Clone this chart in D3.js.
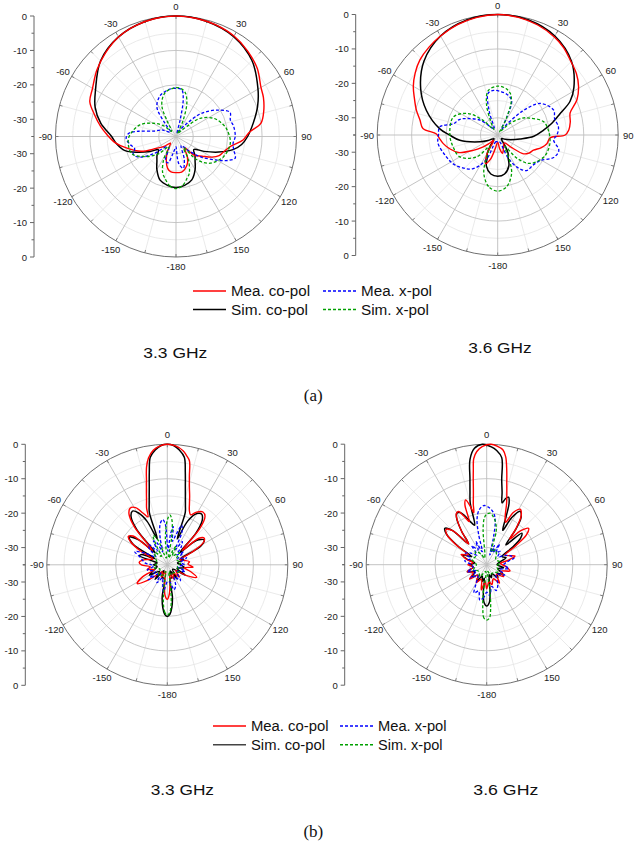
<!DOCTYPE html>
<html><head><meta charset="utf-8">
<script src="https://cdn.jsdelivr.net/npm/d3@7"></script>
<style>body{margin:0;background:#fff} svg{display:block}</style>
</head><body>
<svg id="c" width="641" height="846"></svg>
<script>
// ---------- axis / label data ----------
const DB_MIN = -35;
const majorRings = [-30, -20, -10];
const minorRings = [-25, -15, -5];
const angleTicks = [0, 30, 60, 90, 120, 150, 180, -150, -120, -90, -60, -30];
const angleLabels = ["0", "30", "60", "90", "120", "150", "-180", "-150", "-120", "-90", "-60", "-30"];
const axisTicks = [0, -10, -20, -30];
const axisMinor = [-5, -15, -25, -35];
const seriesNames = ["Mea. co-pol", "Sim. co-pol", "Mea. x-pol", "Sim. x-pol"];
const freqLabels = ["3.3 GHz", "3.6 GHz"];
const panelLabels = ["(a)", "(b)"];

// ---------- (a) 3.3 GHz ----------
const a33_simCo = [[-180,-20.2],[-170,-20.6],[-160,-21.5],[-150,-23.9],[-142,-26],[-135,-27.2],[-127,-28.6],[-120,-26.3],[-112,-22.8],[-105,-19.5],[-97,-17.6],[-90,-16.3],[-80,-12.8],[-70,-10],[-60,-8],[-45,-4],[-30,-1.6],[-15,-0.4],[0,0],[15,-0.4],[30,-1.5],[45,-3.8],[60,-7.5],[70,-9.8],[80,-12.2],[90,-14.2],[97,-15.8],[103,-18],[110,-21.8],[118,-25.8],[126,-28.6],[135,-27.2],[142,-26],[150,-23.9],[160,-21.6],[170,-20.6]];
const a33_meaCo = [[-180,-24.5],[-172,-24.6],[-165,-25.5],[-158,-27.5],[-150,-30],[-140,-32.5],[-130,-30.5],[-121,-28.3],[-113,-24],[-103,-20.2],[-96,-17.3],[-88,-14.8],[-82,-12.8],[-75,-10.5],[-68,-8],[-60,-7],[-50,-5],[-40,-3.2],[-30,-1.6],[-20,-0.7],[-10,-0.2],[0,0],[10,-0.2],[20,-0.6],[30,-1.3],[40,-2.6],[50,-4.2],[60,-6.5],[66,-7.2],[74,-8.5],[81,-10],[87,-13.8],[93,-15.5],[100,-18.8],[108,-20.5],[114,-21.3],[120,-23],[127,-25.5],[136,-27.5],[143,-31],[150,-28.5],[157,-26.5],[164,-25.3],[171,-24.5],[177,-24.5]];
const a33_meaX = [[-180,-32],[-170,-30],[-163,-27],[-156,-27.5],[-148,-31],[-138,-31],[-128,-27],[-120,-23],[-113,-21.5],[-106,-22.5],[-100,-21.5],[-92,-20.5],[-86,-21.3],[-82,-24],[-76,-28.5],[-65,-30.5],[-50,-33],[-40,-30],[-33,-24.8],[-22,-22.4],[-14,-21.6],[-7,-21.1],[0,-21],[7,-21.3],[11,-24],[14,-30],[20,-34],[30,-33],[40,-30],[46,-26],[51,-23.5],[58,-20.5],[66,-17.8],[73,-18.5],[80,-18],[90,-17.8],[97,-18.3],[103,-17.8],[110,-16.7],[115,-18.5],[120,-21.3],[130,-25.9],[140,-30],[150,-32],[160,-28],[167,-25.5],[174,-27],[178,-31]];
const a33_simX = [[-180,-19.9],[-173,-20.5],[-165,-22.5],[-160,-23.7],[-152,-27.3],[-145,-31.5],[-135,-28],[-124,-24.6],[-111,-21.2],[-94,-21.1],[-85,-22],[-72,-24],[-60,-27.3],[-50,-30],[-40,-33],[-30,-30],[-25,-25.3],[-18,-22.8],[-12,-21.6],[0,-20.8],[6,-21],[12,-22],[18,-24.8],[24,-30],[32,-34],[40,-33],[47,-30.7],[53,-26.2],[64,-22.9],[73,-21.3],[82,-20.1],[97,-19.1],[113,-20],[128,-22.4],[138,-25.9],[146,-31],[152,-27.3],[160,-23.7],[165,-22.5],[173,-20.5]];

// ---------- (a) 3.6 GHz ----------
const a36_simCo = [[-180,-23],[-170,-23.5],[-160,-25.4],[-155,-27.8],[-150,-29],[-145,-31.5],[-135,-33.5],[-120,-31.8],[-111,-29.5],[-98,-23.9],[-90,-21],[-84,-18.1],[-71,-13.1],[-59,-8.9],[-45,-4.7],[-30,-1.8],[-15,-0.4],[0,0],[15,-0.4],[30,-1.8],[45,-4.7],[58,-8.9],[65,-11.8],[71,-15.8],[78,-19],[84,-21.6],[92,-24.5],[100,-28.4],[110,-31],[120,-32.5],[135,-33.5],[145,-31.5],[150,-29],[155,-27.9],[160,-25.5],[170,-23.5]];
const a36_meaCo = [[-180,-33],[-170,-31],[-163,-27.5],[-157,-26],[-150,-29],[-143,-33],[-135,-31.6],[-128,-29],[-122,-26.6],[-114,-22.5],[-106,-20.5],[-99,-19],[-93,-18],[-89,-17.2],[-85,-13.2],[-79,-12],[-73,-10.3],[-66,-8.5],[-60,-6.7],[-53,-5],[-46,-3.6],[-38,-2.6],[-30,-1.8],[-20,-0.9],[-10,-0.3],[0,0],[10,-0.3],[20,-1],[30,-2.1],[37,-3.2],[44,-4.7],[52,-6],[59,-7.6],[66,-9.8],[73,-13],[80,-13.6],[86,-14.3],[90,-15.4],[93,-19.7],[100,-20.5],[106,-21.8],[113,-23.7],[120,-24.5],[126,-25.7],[132,-29.5],[140,-32],[155,-31],[165,-29.5],[172,-31]];
const a36_meaX = [[-180,-33],[-165,-33],[-155,-27],[-144,-22.9],[-133,-21],[-123,-19.6],[-113,-18.8],[-98,-17.5],[-90,-17.8],[-82,-18],[-76,-21.7],[-68,-23],[-62,-24.8],[-50,-28.3],[-40,-32],[-30,-33],[-20,-28],[-13,-22.6],[-5,-22],[5,-22.4],[14,-23],[22,-24.2],[27,-29],[33,-33],[40,-31],[46,-25],[53.5,-19.6],[66,-17.2],[74,-17.8],[82.5,-17.2],[90,-17.8],[95,-18.7],[104,-16.7],[112,-17.5],[121,-20.6],[130,-21.5],[141,-21.7],[149,-24.1],[156,-28],[165,-33]];
const a36_simX = [[-180,-18.7],[-170,-19.8],[-160,-23.2],[-153,-28],[-145,-31],[-136,-26.1],[-120,-22.3],[-105,-21.6],[-90,-21.1],[-68,-21.1],[-54,-24.4],[-45,-29],[-36,-33],[-28,-31],[-20,-25.5],[-12,-21.8],[0,-20.8],[10,-21.3],[17,-22.4],[22,-24.5],[28,-30],[34,-34],[41,-33],[47,-30],[55,-26.5],[62,-24.5],[74,-21.1],[85,-20.2],[96,-19.7],[106,-19.7],[116,-20.2],[131,-22.4],[140,-26],[148,-31],[155,-27],[160,-23.2],[170,-19.8]];

// ---------- (b) 3.3 GHz ----------
const b33_simCo = [[-180,-20],[-177,-20.6],[-174,-22.5],[-171,-25.5],[-168,-31],[-160,-31],[-150,-33],[-140,-29.5],[-130,-32],[-120,-29],[-110,-31],[-100,-32],[-90,-31],[-80,-32],[-76,-31],[-72,-26.5],[-68,-27],[-64,-31],[-59,-23.5],[-54,-21.3],[-49,-24],[-45,-30],[-41,-21.5],[-37,-17.5],[-33,-16.4],[-29,-17.8],[-25,-21],[-21,-27],[-19,-19],[-17,-17],[-15,-14.7],[-13,-11.7],[-11,-7.6],[-9,-3.4],[-6,-1.5],[-3,-0.3],[0,0],[3,-0.3],[6,-1.5],[9,-3.4],[11,-7.6],[13,-11.7],[15,-14.7],[17,-17],[19,-19],[21,-27],[25,-21],[30,-17.8],[34,-17.2],[38,-18.5],[42,-22.5],[46,-30],[50,-24],[56,-22.1],[61,-24],[66,-31],[72,-30],[80,-32],[90,-31],[100,-30],[110,-32],[120,-29],[130,-33],[145,-30],[155,-33],[162,-31],[168,-31],[171,-25.5],[174,-22.5],[177,-20.6]];
const b33_meaCo = [[-180,-25],[-176,-26],[-171,-30],[-165,-33],[-155,-31],[-145,-32.5],[-135,-31],[-128,-27.5],[-122,-24.7],[-116,-27],[-110,-31],[-103,-29],[-97,-30],[-90,-27.5],[-85,-26.8],[-80,-27.5],[-75,-29],[-68,-30.5],[-63,-26.5],[-58,-22.5],[-54,-21],[-50,-22],[-46,-29],[-41,-20.5],[-37,-16.5],[-33,-15.3],[-29,-16],[-25,-18.5],[-22,-20],[-20,-17.4],[-18,-15.5],[-16,-13],[-14,-10],[-12,-6],[-10,-3.5],[-7,-1.5],[-4,-0.5],[0,0],[4,-0.4],[8,-1.6],[10,-2.8],[12,-4.1],[14,-8.5],[16,-11.7],[18,-14],[20,-16.2],[22,-17.9],[25,-19],[29,-17.5],[34,-16.5],[38,-17.2],[42,-21],[46,-29],[50,-23],[54,-21.8],[58,-22.5],[63,-27],[68,-31],[75,-30],[82,-28.5],[88,-29],[95,-27.5],[100,-30],[106,-28],[113,-25.7],[119,-28.5],[125,-32],[135,-30],[145,-32],[155,-30.5],[165,-32],[171,-30],[176,-26.5]];
const b33_meaX = [[-180,-30],[-172,-27],[-166,-29.5],[-160,-31],[-150,-29],[-140,-32],[-128,-28],[-118,-31],[-105,-29],[-95,-31],[-85,-28.5],[-75,-27],[-68,-24.8],[-62,-28],[-55,-31],[-48,-28],[-42,-27],[-36,-30],[-30,-27],[-25,-28],[-20,-31],[-15,-27],[-10,-23],[-6,-21.8],[-3,-23],[0,-29],[3,-31],[6,-26],[9,-23.8],[12,-28],[16,-26],[20,-22.8],[24,-24.5],[28,-30],[33,-27],[38,-28.5],[44,-31],[52,-29],[60,-31.5],[70,-29],[80,-31],[90,-30],[100,-32],[110,-29.5],[125,-31.5],[140,-29],[150,-31],[158,-28.5],[165,-27.5],[172,-30]];
const b33_simX = [[-180,-20.3],[-177,-21.2],[-174,-24],[-171,-30],[-168,-33],[-160,-32],[-140,-31],[-120,-32.5],[-100,-31],[-80,-32],[-60,-31],[-45,-30],[-35,-32],[-30,-29],[-26,-25.5],[-21,-27],[-16,-32],[-8,-33],[-4,-27],[0,-22],[3,-20.5],[6,-22],[9,-27],[12,-33],[20,-31],[25,-29],[30,-32],[45,-30],[60,-32],[80,-31],[100,-32],[120,-31],[140,-32],[160,-32],[168,-33],[171,-30],[174,-24],[177,-21.2]];

// ---------- (b) 3.6 GHz ----------
const b36_simCo = [[-180,-23],[-176,-24],[-173,-27],[-170,-31],[-165,-30],[-158,-31.5],[-150,-29.5],[-140,-31],[-130,-29.5],[-120,-31],[-110,-29],[-100,-31],[-90,-30],[-82,-31.5],[-74,-29],[-68,-27.5],[-62,-30],[-57,-25],[-53,-20.5],[-49,-18.9],[-45,-21],[-41,-27],[-37,-23],[-33,-19],[-30,-17.7],[-27,-18],[-24,-19.5],[-20,-22],[-17,-23],[-15,-16.5],[-13,-13.4],[-11,-9.5],[-9,-4],[-6,-1],[-2,0],[2,-0.7],[5,-1.7],[8,-3.6],[10,-9.9],[12,-13.5],[14,-16.5],[16,-15],[18,-14.4],[20,-16],[22,-20],[25,-24],[28,-19.5],[32,-16.7],[36,-18],[40,-22.5],[44,-27],[48,-21.3],[52,-22.5],[56,-26],[62,-30],[70,-29],[78,-31],[90,-32],[100,-30],[110,-31.5],[120,-29.5],[130,-31],[140,-30],[150,-32],[160,-31],[166,-32],[170,-31],[173,-27],[176,-24]];
const b36_meaCo = [[-180,-28],[-175,-30],[-168,-27.5],[-160,-30.5],[-150,-29],[-140,-31],[-130,-28.5],[-120,-30.5],[-110,-29],[-100,-31],[-90,-29.5],[-82,-31],[-75,-29],[-68,-27],[-62,-29],[-57,-24.5],[-53,-20.5],[-49,-19.4],[-45,-21],[-41,-27],[-37,-23],[-34,-20],[-31,-17.8],[-28,-17.5],[-25,-19.5],[-22,-21.5],[-20,-16.5],[-18,-15.2],[-16,-17],[-14,-19.5],[-12.5,-17],[-11,-14.7],[-10,-12.7],[-9,-10],[-8,-7.1],[-7,-4],[-5,-2],[-2,-0.6],[2,0],[5,-0.4],[8,-1.3],[10,-3.2],[12,-7],[14,-10.9],[16,-13.8],[18,-16.3],[21,-20],[24,-21.5],[27,-18],[31,-16.2],[35,-17.5],[39,-21.5],[42,-25],[45,-21],[49,-18.9],[53,-20.5],[57,-25],[62,-29],[68,-28],[73,-26.4],[78,-28.5],[85,-31],[95,-29.5],[105,-28],[115,-30.5],[125,-29],[135,-31],[145,-28.5],[155,-30.5],[165,-29],[172,-30]];
const b36_meaX = [[-180,-27],[-175,-25.5],[-169,-24.5],[-163,-27],[-156,-26],[-150,-29],[-140,-31],[-130,-29],[-120,-31.5],[-110,-29],[-100,-31],[-90,-30.5],[-80,-28.5],[-70,-30],[-62,-28],[-55,-29],[-45,-31],[-38,-28],[-30,-30],[-25,-27.5],[-19,-31],[-15,-26],[-12,-21.5],[-8,-19],[-3,-17.8],[3,-18.5],[8,-20],[11,-22],[14,-27],[18,-32],[22,-29],[27,-31],[32,-28],[38,-30.5],[45,-29.5],[55,-31],[63,-29],[70,-27.5],[76,-26.8],[82,-29],[90,-30],[100,-28.5],[110,-31],[120,-29],[136,-31],[150,-28.5],[160,-27],[167,-28.5],[174,-26]];
const b36_simX = [[-180,-18.9],[-177,-19.5],[-175,-22],[-173,-27],[-171,-33],[-150,-31],[-130,-32],[-110,-31],[-90,-32],[-70,-30.5],[-55,-31],[-40,-30],[-28,-31.5],[-18,-33],[-10,-32],[-6,-25],[-3,-21.5],[0,-20.3],[4,-20],[8,-21],[12,-22.5],[16,-25],[20,-31],[30,-30],[45,-31],[60,-32],[80,-31],[100,-32],[120,-31],[140,-32],[160,-32],[171,-33],[173,-27],[175,-22],[177,-19.5]];

// ---------- drawing ----------
const svg = d3.select("#c");
const FONT = "'Liberation Sans', Arial, sans-serif";
const R = 120.5;
const rScale = d3.scaleLinear().domain([DB_MIN, 0]).range([0, R]).clamp(true);
const rad = d => d * Math.PI / 180;

const styles = [
  {name: seriesNames[1], color: "#000000", dash: null, width: 1.5},
  {name: seriesNames[0], color: "#ff0000", dash: null, width: 1.4},
  {name: seriesNames[2], color: "#0000ff", dash: "3,2", width: 1.3},
  {name: seriesNames[3], color: "#00a000", dash: "3,2", width: 1.3}
];

const panels = [
  {cx: 176,   cy: 136.5, s: [a33_simCo, a33_meaCo, a33_meaX, a33_simX]},
  {cx: 497.7, cy: 135,   s: [a36_simCo, a36_meaCo, a36_meaX, a36_simX]},
  {cx: 167.3, cy: 564.8, s: [b33_simCo, b33_meaCo, b33_meaX, b33_simX]},
  {cx: 486.7, cy: 564.7, s: [b36_simCo, b36_meaCo, b36_meaX, b36_simX]}
];

const line = d3.lineRadial()
  .angle(d => rad(d[0]))
  .radius(d => rScale(d[1]))
  .curve(d3.curveCatmullRomClosed.alpha(0.5));

panels.forEach(p => {
  const g = svg.append("g").attr("transform", `translate(${p.cx},${p.cy})`);
  // minor rings & spokes
  g.selectAll(".mr").data(minorRings).join("circle")
    .attr("r", d => rScale(d)).attr("fill", "none").attr("stroke", "#e4e4e4").attr("stroke-width", 0.8);
  const minorSpokes = d3.range(15, 360, 30);
  g.selectAll(".ms").data(minorSpokes).join("line")
    .attr("x1", 0).attr("y1", 0)
    .attr("x2", d => R * Math.sin(rad(d))).attr("y2", d => -R * Math.cos(rad(d)))
    .attr("stroke", "#e4e4e4").attr("stroke-width", 0.8);
  g.selectAll(".Mr").data(majorRings).join("circle")
    .attr("r", d => rScale(d)).attr("fill", "none").attr("stroke", "#c2c2c2").attr("stroke-width", 0.9);
  g.selectAll(".Ms").data(angleTicks).join("line")
    .attr("x1", 0).attr("y1", 0)
    .attr("x2", d => R * Math.sin(rad(d))).attr("y2", d => -R * Math.cos(rad(d)))
    .attr("stroke", "#bcbcbc").attr("stroke-width", 0.9);
  g.append("circle").attr("r", R).attr("fill", "none").attr("stroke", "#707070").attr("stroke-width", 1);
  // outer ring ticks
  g.selectAll(".ot").data(d3.range(0, 360, 15)).join("line")
    .attr("x1", d => R * Math.sin(rad(d))).attr("y1", d => -R * Math.cos(rad(d)))
    .attr("x2", d => (R - 3) * Math.sin(rad(d))).attr("y2", d => -(R - 3) * Math.cos(rad(d)))
    .attr("stroke", "#707070").attr("stroke-width", 0.9);
  // angle labels
  g.selectAll(".al").data(angleTicks).join("text")
    .attr("x", d => (R + 10) * Math.sin(rad(d)))
    .attr("y", d => -(R + 9.5) * Math.cos(rad(d)))
    .attr("text-anchor", "middle").attr("dominant-baseline", "central")
    .attr("font-family", FONT).attr("font-size", 9.5).attr("fill", "#222")
    .text((d, i) => angleLabels[i]);

  // left radial axis
  const ax = p.cx - 142;
  const ya = svg.append("g");
  const yTop = d3.scaleLinear().domain([DB_MIN, 0]).range([p.cy, p.cy - R]);
  const yBot = d3.scaleLinear().domain([DB_MIN, 0]).range([p.cy, p.cy + R]);
  ya.append("line").attr("x1", ax).attr("x2", ax).attr("y1", p.cy - R).attr("y2", p.cy + R)
    .attr("stroke", "#666").attr("stroke-width", 1);
  [yTop, yBot].forEach(sc => {
    ya.selectAll(null).data(axisTicks).join("line")
      .attr("x1", ax - 4).attr("x2", ax).attr("y1", d => sc(d)).attr("y2", d => sc(d))
      .attr("stroke", "#666").attr("stroke-width", 1);
    ya.selectAll(null).data(axisMinor).join("line")
      .attr("x1", ax - 2.5).attr("x2", ax).attr("y1", d => sc(d)).attr("y2", d => sc(d))
      .attr("stroke", "#666").attr("stroke-width", 1);
    ya.selectAll(null).data(axisTicks).join("text")
      .attr("x", ax - 7).attr("y", d => sc(d))
      .attr("text-anchor", "end").attr("dominant-baseline", "central")
      .attr("font-family", FONT).attr("font-size", 9.5).attr("fill", "#222")
      .text((d, i) => (d === 0 ? "0" : String(d)));
  });

  // curves
  p.s.forEach((data, i) => {
    const st = styles[i];
    const sorted = data.slice().sort((a, b) => a[0] - b[0]);
    g.append("path").attr("d", line(sorted))
      .attr("fill", "none").attr("stroke", st.color).attr("stroke-width", st.width)
      .attr("stroke-dasharray", st.dash).attr("stroke-linejoin", "round");
  });
});

// legends
function legend(x1, x2, y1, y2, tw, simColor) {
  const items = [
    {c: "#ff0000", d: null, x: x1, y: y1, t: seriesNames[0], w: tw[0]},
    {c: "#0000ff", d: "3,2", x: x2, y: y1, t: seriesNames[2], w: tw[1]},
    {c: simColor, d: null, x: x1, y: y2, t: seriesNames[1], w: tw[2]},
    {c: "#00a000", d: "3,2", x: x2, y: y2, t: seriesNames[3], w: tw[3]}
  ];
  items.forEach(it => {
    svg.append("line").attr("x1", it.x).attr("x2", it.x + 33).attr("y1", it.y).attr("y2", it.y)
      .attr("stroke", it.c).attr("stroke-width", 1.4).attr("stroke-dasharray", it.d);
    svg.append("text").attr("x", it.x + 38).attr("y", it.y + 5)
      .attr("font-family", FONT).attr("font-size", 14).attr("fill", "#111")
      .attr("textLength", it.w).attr("lengthAdjust", "spacingAndGlyphs")
      .text(it.t);
  });
}
legend(193, 323, 291, 309.5, [79, 71, 77, 68], "#000");
legend(213, 340, 726, 744.7, [77.5, 68.5, 74, 64.5], "#444");

// frequency captions
const caps = [
  {x: 143.3, y: 358.3, w: 64, t: freqLabels[0]},
  {x: 468.3, y: 353.3, w: 63.4, t: freqLabels[1]},
  {x: 150.7, y: 795, w: 63.3, t: freqLabels[0]},
  {x: 473.3, y: 795, w: 65, t: freqLabels[1]}
];
caps.forEach(c => svg.append("text").attr("x", c.x).attr("y", c.y)
  .attr("font-family", FONT).attr("font-size", 14).attr("fill", "#111")
  .attr("textLength", c.w).attr("lengthAdjust", "spacingAndGlyphs").text(c.t));

// panel labels
[[313.3, 400.5, panelLabels[0]], [313.3, 837, panelLabels[1]]].forEach(([x, y, t]) =>
  svg.append("text").attr("x", x).attr("y", y).attr("text-anchor", "middle")
    .attr("font-family", "'Liberation Serif', 'Times New Roman', serif").attr("font-size", 17)
    .attr("fill", "#111").text(t));
</script>
</body></html>
